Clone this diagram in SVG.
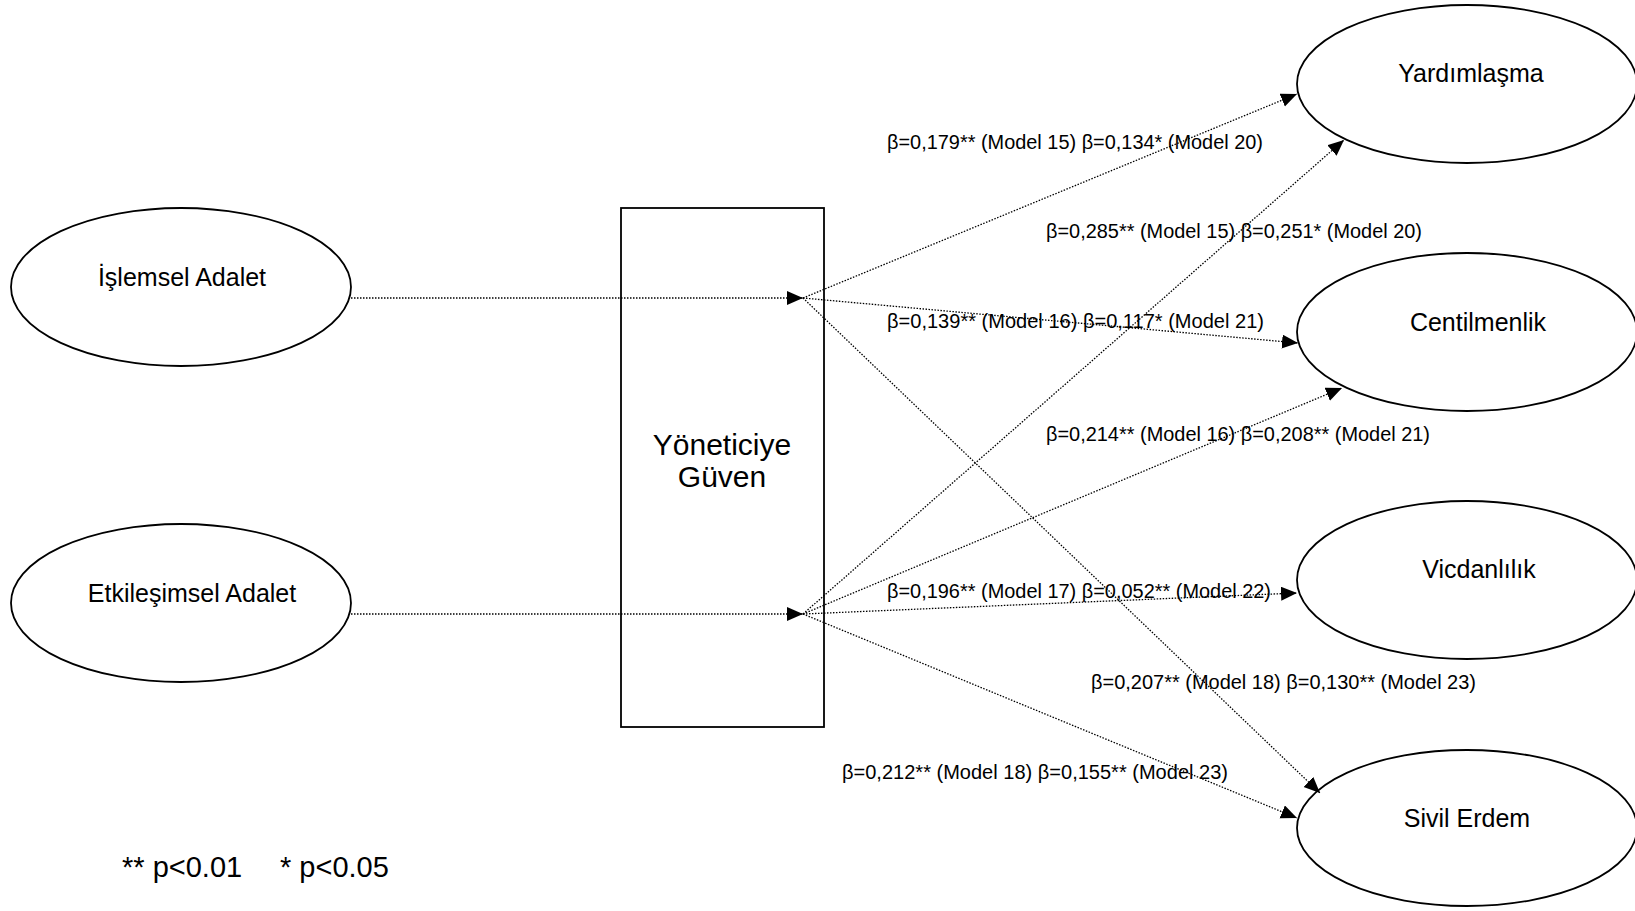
<svg xmlns="http://www.w3.org/2000/svg" width="1635" height="911" viewBox="0 0 1635 911">
<style>
.node{fill:#fff;stroke:#000;stroke-width:1.8}
.lbl{font-family:"Liberation Sans",Arial,sans-serif;font-size:25px;fill:#000;text-anchor:middle}
.elbl{font-family:"Liberation Sans",Arial,sans-serif;font-size:20px;fill:#000}
.conn{fill:none;stroke:#000;stroke-width:1.3;stroke-dasharray:1.5,1.5}
</style>
<defs>
<marker id="arr" markerUnits="userSpaceOnUse" markerWidth="17" markerHeight="15" refX="16" refY="7" orient="auto">
<path d="M0,0 L16,7 L0,14 z" fill="#000"/>
</marker>
</defs>
<rect width="1635" height="911" fill="#fff"/>
<g id="islemsel"><ellipse class="node" cx="181" cy="287" rx="170" ry="79"/><text class="lbl" x="182" y="286">İşlemsel Adalet</text></g>
<g id="etkilesimsel"><ellipse class="node" cx="181" cy="603" rx="170" ry="79"/><text class="lbl" x="192" y="602">Etkileşimsel Adalet</text></g>
<g id="guven"><rect class="node" x="621" y="208" width="203" height="519"/><text class="lbl" x="722" y="455" style="font-size:30px">Yöneticiye</text><text class="lbl" x="722" y="487" style="font-size:30px">Güven</text></g>
<g id="yardimlasma"><ellipse class="node" cx="1467" cy="84" rx="170" ry="79"/><text class="lbl" x="1471" y="82">Yardımlaşma</text></g>
<g id="centilmenlik"><ellipse class="node" cx="1467" cy="332" rx="170" ry="79"/><text class="lbl" x="1478" y="331">Centilmenlik</text></g>
<g id="vicdanlilik"><ellipse class="node" cx="1467" cy="580" rx="170" ry="79"/><text class="lbl" x="1479" y="578">Vicdanlılık</text></g>
<g id="sivilerdem"><ellipse class="node" cx="1467" cy="828" rx="170" ry="78"/><text class="lbl" x="1467" y="827">Sivil Erdem</text></g>
<g id="connectors">
<line class="conn" x1="351" y1="298" x2="803" y2="298" marker-end="url(#arr)"/>
<line class="conn" x1="351" y1="614" x2="803" y2="614" marker-end="url(#arr)"/>
<line class="conn" x1="803" y1="298" x2="1297" y2="94" marker-end="url(#arr)"/>
<line class="conn" x1="803" y1="298" x2="1298" y2="343" marker-end="url(#arr)"/>
<line class="conn" x1="803" y1="298" x2="1320" y2="793" marker-end="url(#arr)"/>
<line class="conn" x1="803" y1="614" x2="1344" y2="140" marker-end="url(#arr)"/>
<line class="conn" x1="803" y1="614" x2="1342" y2="388" marker-end="url(#arr)"/>
<line class="conn" x1="803" y1="614" x2="1297" y2="593" marker-end="url(#arr)"/>
<line class="conn" x1="803" y1="614" x2="1297" y2="818" marker-end="url(#arr)"/>
</g>
<g id="edge-labels">
<text class="elbl" x="887" y="149" textLength="376" lengthAdjust="spacingAndGlyphs">β=0,179** (Model 15) β=0,134* (Model 20)</text>
<text class="elbl" x="1046" y="238" textLength="376" lengthAdjust="spacingAndGlyphs">β=0,285** (Model 15) β=0,251* (Model 20)</text>
<text class="elbl" x="887" y="328" textLength="377" lengthAdjust="spacingAndGlyphs">β=0,139** (Model 16) β=0,117* (Model 21)</text>
<text class="elbl" x="1046" y="441" textLength="384" lengthAdjust="spacingAndGlyphs">β=0,214** (Model 16) β=0,208** (Model 21)</text>
<text class="elbl" x="887" y="598" textLength="384" lengthAdjust="spacingAndGlyphs">β=0,196** (Model 17) β=0,052** (Model 22)</text>
<text class="elbl" x="1091" y="689" textLength="385" lengthAdjust="spacingAndGlyphs">β=0,207** (Model 18) β=0,130** (Model 23)</text>
<text class="elbl" x="842" y="779" textLength="386" lengthAdjust="spacingAndGlyphs">β=0,212** (Model 18) β=0,155** (Model 23)</text>
</g>
<g id="legend">
<text class="elbl" x="122" y="877" style="font-size:29px">** p&lt;0.01</text>
<text class="elbl" x="280" y="877" style="font-size:29px">* p&lt;0.05</text>
</g>
</svg>
